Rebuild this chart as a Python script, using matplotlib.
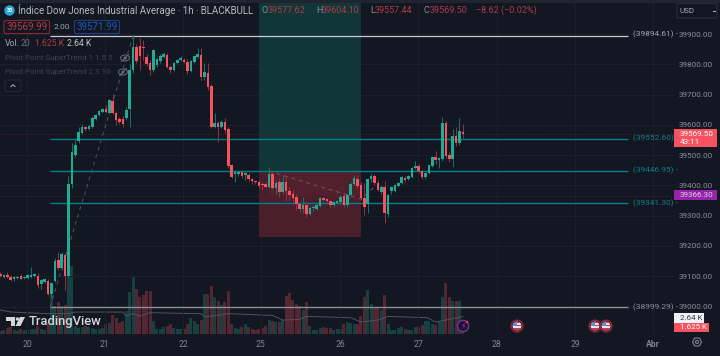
import matplotlib
matplotlib.use("Agg")
import matplotlib.pyplot as plt
from matplotlib.patches import Circle, Ellipse, FancyBboxPatch, Polygon, Rectangle
import numpy as np

plt.rcParams["font.family"] = ["Roboto", "DejaVu Sans"]

BG = "#131722"
UP = "#22ab94"
DOWN = "#f7525f"
TEAL = "#007f8c"

opens = [39107, 39098, 39104, 39098, 39091, 39094, 39101, 39094, 39094, 39098,
         39101, 39101, 39074, 39081, 39084, 39041, 39084, 39154, 39127, 39170,
         39101, 39405, 39500, 39547, 39573, 39593, 39586, 39593, 39619, 39632,
         39642, 39652, 39639, 39679, 39639, 39619, 39619, 39623, 39652, 39781,
         39857, 39860, 39857, 39824, 39804, 39781, 39798, 39811, 39824, 39831,
         39791, 39781, 39804, 39814, 39814, 39807, 39778, 39807, 39824, 39831,
         39758, 39771, 39728, 39593, 39606, 39593, 39609, 39586, 39467, 39438,
         39438, 39444, 39434, 39434, 39421, 39415, 39411, 39405, 39405, 39395,
         39438, 39391, 39411, 39378, 39411, 39381, 39372, 39362, 39339, 39322,
         39335, 39306, 39325, 39322, 39332, 39358, 39355, 39348, 39335, 39342,
         39345, 39365, 39335, 39368, 39405, 39421, 39401, 39358, 39339, 39421,
         39431, 39408, 39378, 39395, 39306, 39381, 39381, 39398, 39408, 39424,
         39421, 39428, 39457, 39464, 39448, 39428, 39441, 39464, 39494, 39484,
         39487, 39606, 39500, 39487, 39563, 39540, 39577.62]
highs = [39113, 39107, 39114, 39104, 39101, 39101, 39106, 39101, 39107, 39131,
         39110, 39110, 39091, 39094, 39091, 39078, 39160, 39180, 39180, 39176,
         39431, 39540, 39553, 39593, 39603, 39596, 39600, 39628, 39636, 39650,
         39655, 39665, 39686, 39702, 39645, 39625, 39629, 39660, 39800, 39900,
         39867, 39887, 39880, 39835, 39815, 39850, 39820, 39833, 39840, 39838,
         39796, 39808, 39818, 39827, 39821, 39817, 39815, 39831, 39854, 39854,
         39804, 39804, 39735, 39639, 39612, 39615, 39622, 39592, 39472, 39451,
         39448, 39450, 39445, 39441, 39425, 39418, 39418, 39410, 39410, 39461,
         39445, 39415, 39424, 39434, 39434, 39395, 39385, 39370, 39345, 39362,
         39345, 39332, 39335, 39338, 39362, 39362, 39360, 39352, 39348, 39352,
         39368, 39375, 39372, 39410, 39435, 39430, 39410, 39408, 39425, 39440,
         39437, 39418, 39400, 39415, 39372, 39398, 39405, 39412, 39431, 39430,
         39435, 39460, 39480, 39470, 39452, 39445, 39468, 39497, 39512, 39493,
         39626, 39612, 39510, 39585, 39594, 39623, 39604.10]
lows = [39098, 39095, 39094, 39084, 39085, 39090, 39088, 39090, 39091, 39094,
        39096, 39061, 39058, 39078, 39038, 39032, 39080, 39120, 39120, 39055,
        39098, 39392, 39495, 39540, 39570, 39579, 39583, 39590, 39616, 39629,
        39639, 39640, 39636, 39636, 39599, 39603, 39593, 39615, 39593, 39770,
        39805, 39781, 39815, 39795, 39765, 39774, 39790, 39805, 39820, 39788,
        39771, 39778, 39801, 39811, 39804, 39768, 39775, 39804, 39820, 39748,
        39748, 39715, 39590, 39588, 39543, 39588, 39573, 39458, 39425, 39411,
        39430, 39425, 39418, 39415, 39405, 39403, 39390, 39385, 39390, 39390,
        39388, 39370, 39362, 39375, 39350, 39352, 39345, 39318, 39312, 39310,
        39296, 39302, 39315, 39318, 39328, 39345, 39344, 39325, 39330, 39338,
        39340, 39330, 39330, 39362, 39400, 39392, 39352, 39302, 39309, 39410,
        39400, 39380, 39372, 39276, 39296, 39370, 39378, 39395, 39405, 39412,
        39418, 39425, 39453, 39440, 39422, 39422, 39438, 39460, 39470, 39457,
        39480, 39490, 39478, 39460, 39530, 39533, 39557.44]
closes = [39101, 39104, 39098, 39088, 39098, 39098, 39091, 39098, 39104, 39104,
          39107, 39071, 39088, 39091, 39041, 39078, 39150, 39127, 39173, 39101,
          39405, 39510, 39533, 39576, 39593, 39586, 39596, 39623, 39632, 39646,
          39651, 39642, 39682, 39639, 39616, 39609, 39603, 39649, 39781, 39857,
          39811, 39827, 39853, 39801, 39781, 39847, 39817, 39827, 39834, 39791,
          39781, 39804, 39814, 39821, 39807, 39778, 39811, 39827, 39834, 39758,
          39775, 39725, 39593, 39606, 39593, 39609, 39583, 39464, 39428, 39444,
          39444, 39431, 39441, 39421, 39415, 39411, 39398, 39401, 39395, 39438,
          39391, 39408, 39378, 39411, 39381, 39368, 39358, 39339, 39322, 39335,
          39306, 39325, 39329, 39335, 39358, 39352, 39348, 39335, 39345, 39348,
          39362, 39335, 39368, 39405, 39424, 39398, 39358, 39329, 39421, 39431,
          39408, 39385, 39395, 39309, 39368, 39395, 39401, 39408, 39428, 39418,
          39431, 39457, 39464, 39448, 39428, 39441, 39467, 39494, 39484, 39491,
          39606, 39497, 39487, 39563, 39540, 39580, 39569.50]
volumes_k = [0.42, 0.57, 0.93, 1.09, 0.51, 0.42, 0.67, 0.57, 0.57, 0.67,
             0.78, 1.19, 0.78, 0.51, 1.81, 6.05, 4.34, 4.96, 4.34, 4.50,
             10.54, 10.54, 1.19, 0.93, 1.09, 1.24, 1.04, 0.93, 0.78, 0.78,
             0.93, 1.44, 1.60, 2.95, 2.48, 1.71, 1.97, 3.52, 6.51, 8.79,
             6.98, 5.69, 6.00, 6.67, 6.62, 1.97, 0.78, 0.78, 1.09, 1.24,
             1.44, 0.93, 0.78, 0.78, 0.78, 1.55, 2.48, 1.97, 1.55, 2.12,
             6.20, 6.20, 7.39, 5.69, 5.07, 4.50, 4.96, 6.62, 1.55, 0.93,
             0.78, 1.09, 1.44, 1.09, 0.78, 0.57, 0.78, 0.88, 1.19, 2.12,
             1.91, 1.81, 1.81, 2.12, 5.84, 6.36, 5.22, 4.65, 4.29, 3.67,
             4.96, 1.19, 0.57, 0.57, 0.93, 1.09, 0.82, 0.88, 0.57, 0.73,
             0.78, 1.44, 1.81, 1.71, 1.44, 1.55, 2.74, 5.74, 6.77, 4.65,
             4.19, 4.03, 3.67, 5.94, 1.44, 0.57, 0.57, 0.82, 0.98, 0.67,
             0.57, 0.57, 0.98, 1.09, 1.29, 1.91, 1.91, 1.55, 1.35, 1.81,
             5.74, 7.86, 5.69, 5.07, 5.01, 5.07, 1.625]

vol_ma_bars = [0, 3, 14, 20, 22, 36, 37, 39, 41, 44, 59, 60, 67, 70, 76, 80, 83,
               88, 90, 103, 106, 111, 114, 125.5, 128, 132, 136]
vol_ma_k = [3.67, 3.36, 3.10, 3.10, 3.36, 3.36, 2.74, 3.10, 2.74, 3.26, 3.10, 2.59,
            3.10, 3.05, 2.90, 2.84, 2.12, 2.22, 2.68, 2.48, 1.81, 2.12, 2.68, 2.48,
            1.81, 2.22, 2.64]

day_bars = [7.8, 30.7, 53.7, 76.6, 99.9, 122.8, 146, 169, 192]
day_labels = ["20", "21", "22", "25", "26", "27", "28", "29", "Abr"]
price_ticks = list(range(39000, 40000, 100))

level_white = 39894.61
level_grey = 38999.29
teal_levels = [39552.60, 39446.95, 39341.30]
last_close_level = 39569.99
purple_level = 39366.30

fig = plt.figure(figsize=(7.2, 3.56), dpi=100, facecolor=BG)
ax = fig.add_axes([0, (356 - 333.7) / 356, 674 / 720, 330.7 / 356])
ax_vol = ax.twinx()

x = np.arange(len(opens))
o, h, l, c = map(np.array, (opens, highs, lows, closes))
up = c >= o

ax.set_xlim(-0.147, 198.1)
ax.set_ylim(38910.2, 40002.4)
ax_vol.set_ylim(0, 51.26)

ax_vol.set_facecolor(BG)
ax.set_zorder(ax_vol.get_zorder() + 1)
ax.patch.set_visible(False)
for a in (ax, ax_vol):
    for s in a.spines.values():
        s.set_visible(False)
ax_vol.yaxis.set_visible(False)

ax_vol.bar(x, volumes_k, width=0.88, color=[UP if u else DOWN for u in up], alpha=0.28, linewidth=0)
ax_vol.plot(vol_ma_bars, vol_ma_k, color="#50535e", lw=0.7)

ax.set_xticks(day_bars, day_labels)
ax.set_yticks(price_ticks, [f"{p:.2f}" for p in price_ticks])
ax.yaxis.tick_right()
ax.grid(True, color="#1c202b", lw=0.7)
ax.set_axisbelow(True)
ax.tick_params(axis="y", length=0, pad=3.6, labelsize=5.9, labelcolor="#8b8e96")
ax.tick_params(axis="x", length=0, pad=4.5, labelsize=6.2, labelcolor="#81848c")
ax.get_xticklabels()[-1].set_fontweight("bold")

# position boxes
ax.add_patch(Rectangle((76, 39446.95), 30, 40002.4 - 39446.95, fc="#113638", lw=0, zorder=1))
ax.add_patch(Rectangle((76, 39230), 30, 39446.95 - 39230, fc="#4a1f2b", lw=0, zorder=1))
ax.add_patch(Rectangle((79, 39365), 27, 39446.95 - 39365, fc="#f23645", alpha=0.05, lw=0, zorder=1))

# levels
ax.hlines(level_white, 14.6, 184.6, color="#c9cbd0", lw=0.9, zorder=2)
ax.hlines(level_grey, 14.6, 184.6, color="#8c8e94", lw=1.0, zorder=4)
ax.hlines(teal_levels, 14.6, 184.6, color=TEAL, lw=1.0, zorder=2)
ax.hlines([last_close_level, purple_level], -0.147, 198.1, color="#4a2136", lw=0.6, linestyles=(0, (1.5, 1.5)), zorder=2)

# dashed swing lines
ax.plot([14.6, 39], [38999.29, 39894.61], color="#50535e", lw=0.7, ls=(0, (4, 4)), zorder=2)
ax.plot([79, 106, 110], [39446.95, 39355, 39395], color="#6b5a62", lw=0.7, ls=(0, (4, 4)), zorder=2)

# candles
colors = np.where(up, UP, DOWN)
wick_colors = np.where(up, "#14756a", "#96323f")
ax.vlines(x, l, h, colors=wick_colors, lw=0.7, zorder=5)
ax.bar(x, np.maximum(np.abs(c - o), 3), bottom=np.minimum(o, c), width=0.78, color=colors, linewidth=0, zorder=6)

# overlay in pixel coordinates for the chrome of the screenshot
ov = fig.add_axes([0, 0, 1, 1], zorder=20)
ov.set_xlim(0, 720)
ov.set_ylim(356, 0)
ov.axis("off")


def label(px, py, s, color, size=5.9, **kw):
    kw.setdefault("va", "center")
    ov.text(px, py, s, color=color, fontsize=size, **kw)


def box(x0, y0, x1, y1, fc="none", ec="none", lw=0.8, r=1.5):
    ov.add_patch(FancyBboxPatch((x0, y0), x1 - x0, y1 - y0, boxstyle=f"round,pad=0,rounding_size={r}",
                                fc=fc, ec=ec, lw=lw))


def eye(px, py):
    ov.add_patch(Ellipse((px, py), 9, 6, fc="none", ec="#6b6e76", lw=0.7))
    ov.add_patch(Circle((px, py), 1.5, fc="#6b6e76", lw=0))
    ov.plot([px - 3.5, px + 3.5], [py + 3.5, py - 3.5], color="#6b6e76", lw=0.7)


def flag(px, py):
    ov.add_patch(Circle((px, py), 5.8, fc=BG, ec="#a3213a", lw=1.0))
    disc = Circle((px, py), 4.4, fc="#e8e8ea", lw=0)
    ov.add_patch(disc)
    for dy, col, hgt in [(-4.4, "#c23b50", 1.5), (-1.5, "#c23b50", 1.2), (1.0, "#e8e8ea", 1.0), (2.4, "#c23b50", 2.0)]:
        r = Rectangle((px - 4.4, py + dy), 8.8, hgt, fc=col, lw=0)
        ov.add_patch(r)
        r.set_clip_path(disc)
    r = Rectangle((px - 4.4, py - 4.4), 4.8, 4.4, fc="#5a8fd0", lw=0)
    ov.add_patch(r)
    r.set_clip_path(disc)


# header
ov.add_patch(Rectangle((0, 0), 720, 2.5, fc="#20242e", lw=0))
ov.add_patch(Circle((9.5, 10.5), 5.2, fc="#2aa5d8", lw=0))
label(9.5, 10.7, "30", "white", size=3.8, ha="center", fontweight="bold")
label(18, 10.5, "Índice Dow Jones Industrial Average · 1h · BLACKBULL", "#b7b9c0", size=7.05)
label(262, 10.5, "O", "#8b8e96", size=6.5)
label(268, 10.5, "39577.62", "#b03a4a", size=6.5)
label(316, 10.5, "H", "#8b8e96", size=6.5)
label(322, 10.5, "39604.10", "#b03a4a", size=6.5)
label(370, 10.5, "L", "#8b8e96", size=6.5)
label(375, 10.5, "39557.44", "#b03a4a", size=6.5)
label(424, 10.5, "C", "#8b8e96", size=6.5)
label(430, 10.5, "39569.50", "#b03a4a", size=6.5)
label(476, 10.5, "−8.62 (−0.02%)", "#b03a4a", size=6.5)

box(4, 20.5, 49.5, 33.5, ec="#8a2733")
label(26.7, 27.2, "39569.99", "#b83b4a", size=7, ha="center")
label(62, 27.2, "2.00", "#a0a3aa", size=6, ha="center")
box(74.5, 20.5, 119.5, 33.5, ec="#1c3f8a")
label(97, 27.2, "39571.99", "#2257c0", size=7, ha="center")

label(5, 44, "Vol.", "#a0a3aa", size=6.2)
label(20.5, 44, "20", "#6b6e76", size=6.2)
label(35, 44, "1.625 K", "#b03a4a", size=6.2)
label(67, 44, "2.64 K", "#c4c6cc", size=6.2)
label(5, 58, "Pivot Point SuperTrend 1 1.5 5", "#3f424c", size=5.8)
label(5, 72, "Pivot Point SuperTrend 2 3 10", "#3f424c", size=5.8)
eye(125, 58)
eye(123, 72)
box(5, 80, 21, 91.5, ec="#262a34", lw=0.7)
ov.plot([11, 13, 15], [86.5, 84.7, 86.5], color="#a0a3aa", lw=0.8)

# watermark
wm = "#d5d6da"
ov.add_patch(Polygon([(6, 317), (15, 317), (15, 326), (11, 326), (11, 321), (6, 321)], fc=wm, lw=0))
ov.add_patch(Circle((17.4, 319), 1.7, fc=wm, lw=0))
ov.add_patch(Polygon([(20, 317), (25, 317), (20.5, 326), (15.5, 326)], fc=wm, lw=0))
label(28.5, 321.5, "TradingView", wm, size=9.4, fontweight="medium")

# price scale
box(677, 3.5, 717, 18, ec="#2a2e39", lw=0.8)
label(679.5, 11, "USD", "#a9acb3", size=5.8)
ov.plot([712.5, 714.5], [11, 11], color="#a9acb3", lw=0.8)

label(633, 34.5, "(39894.61) -", "#a0a3aa", size=6.0)
label(633, 138.5, "(39552.60) -", "#0e7f88", size=6.0)
label(633, 170.5, "(39446.95) -", "#0e7f88", size=6.0)
label(633, 203, "(39341.30) -", "#0e7f88", size=6.0)
label(633, 307, "(38999.29) -", "#8b8e96", size=6.0)

ov.add_patch(Rectangle((674, 129), 42.5, 18, fc=DOWN, lw=0))
label(679.5, 134, "39569.50", "white", size=5.9)
label(679.5, 142, "43:11", "white", size=5.9)
ov.add_patch(Rectangle((674, 190), 42.5, 10, fc="#9424a8", lw=0))
label(679.5, 195, "39366.30", "#e6c9ec", size=5.9)
ov.add_patch(Rectangle((674, 313), 30, 9.5, fc="#f0f1f3", lw=0))
label(679.5, 317.7, "2.64 K", "#3a3d46", size=5.7)
ov.add_patch(Rectangle((674, 322.5), 35, 9.8, fc=DOWN, lw=0))
label(680, 327.4, "1.625 K", "white", size=5.7)

ov.add_patch(Polygon([(692.5, 342), (694.7, 338), (699.3, 338), (701.5, 342), (699.3, 346), (694.7, 346)],
                     fc="none", ec="#81848c", lw=0.8))
ov.add_patch(Circle((697, 342), 1.5, fc="none", ec="#81848c", lw=0.8))

# events
ov.add_patch(Circle((463, 326), 5.6, fc="#1c1530", ec="#7b2fa0", lw=1.0))
label(463, 326, "⚡", "#9c3fc8", size=5.5, ha="center", family=["DejaVu Sans"])
ov.add_patch(Circle((467, 322), 1.3, fc="#f23645", lw=0))
flag(517, 326)
flag(595, 326)
flag(606, 326)

fig.savefig("out.png", dpi=100, facecolor=BG)
